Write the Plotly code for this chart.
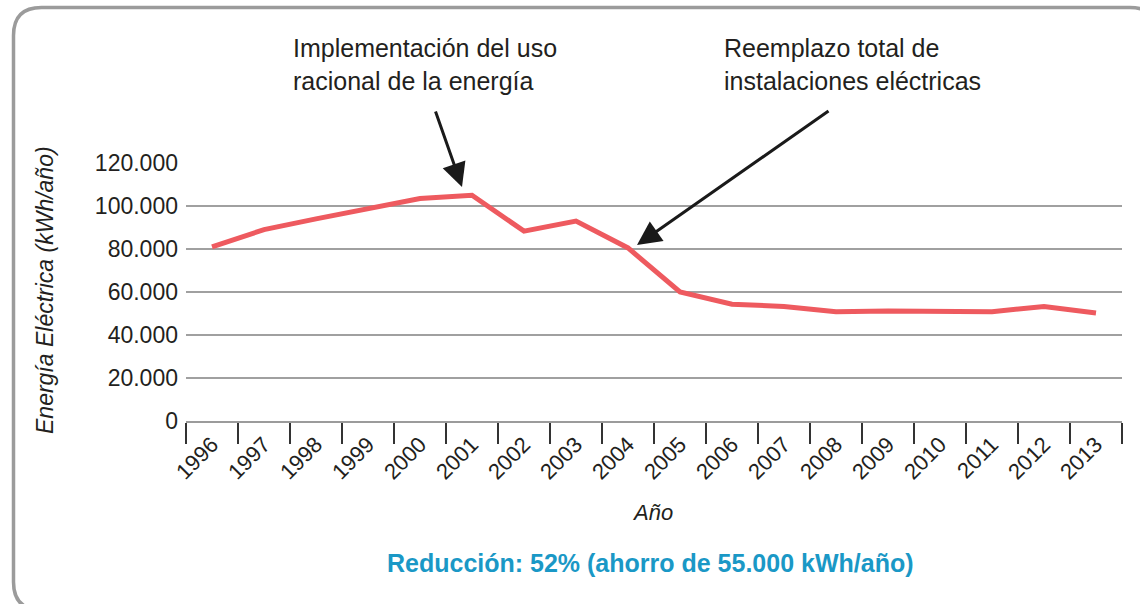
import plotly.graph_objects as go

years = [str(y) for y in range(1996, 2014)]
energia = [81000, 89000, 94000, 98800, 103500, 105000, 88300, 93000, 80500,
           60000, 54300, 53300, 50800, 51200, 50800, 50800, 53300, 50200]
y_ticks = [0, 20000, 40000, 60000, 80000, 100000, 120000]

W, H = 1140, 604
L, R, T, B = 186, 1122, 163, 421  # plot area in pixels


def px(x):
    return (x - L) / (R - L)


def py(y):
    return (B - y) / (B - T)


FONT = "Liberation Sans"
TXT = "#231f20"

fig = go.Figure()
fig.add_trace(go.Scatter(
    x=years, y=energia, mode="lines",
    line=dict(color="#ee5a5f", width=5),
    hoverinfo="skip", showlegend=False))

# rounded border
x0, y0, x1, y1, r = 13.5, 7.5, 1158, 610, 28
path = (f"M {px(x0+r)},{py(y0)} L {px(x1-r)},{py(y0)} "
        f"Q {px(x1)},{py(y0)} {px(x1)},{py(y0+r)} L {px(x1)},{py(y1-r)} "
        f"Q {px(x1)},{py(y1)} {px(x1-r)},{py(y1)} L {px(x0+r)},{py(y1)} "
        f"Q {px(x0)},{py(y1)} {px(x0)},{py(y1-r)} L {px(x0)},{py(y0+r)} "
        f"Q {px(x0)},{py(y0)} {px(x0+r)},{py(y0)} Z")
fig.add_shape(type="path", path=path, xref="paper", yref="paper",
              line=dict(color="#9b9b9b", width=3.5), layer="below")

annotations = [
    dict(text="Implementación del uso<br>racional de la energía", x=px(291), y=py(64),
         xanchor="left", yanchor="middle", align="left", showarrow=False,
         font=dict(size=25, color=TXT)),
    dict(text="Reemplazo total de<br>instalaciones eléctricas", x=px(722), y=py(64),
         xanchor="left", yanchor="middle", align="left", showarrow=False,
         font=dict(size=25, color=TXT)),
    dict(text="Energía Eléctrica (kWh/año)", x=px(45), y=py(290), textangle=-90,
         xanchor="center", yanchor="middle", showarrow=False,
         font=dict(size=23, color=TXT, style="italic")),
    dict(text="Año", x=px(652), y=py(512), xanchor="center", yanchor="middle",
         showarrow=False, font=dict(size=22, color=TXT, style="italic")),
    dict(text="<b>Reducción: 52% (ahorro de 55.000 kWh/año)</b>", x=px(650), y=py(563),
         xanchor="center", yanchor="middle", showarrow=False,
         font=dict(size=25, color="#1a98c6")),
]
for a in annotations:
    a.update(xref="paper", yref="paper")
    fig.add_annotation(**a)

# arrows
for hx, hy, tx, ty in [(462, 187, 435, 110), (637, 245, 830, 110)]:
    fig.add_annotation(x=px(hx), y=py(hy), xref="paper", yref="paper",
                       ax=tx - hx, ay=ty - hy, text="", showarrow=True,
                       arrowhead=2, arrowsize=1.6, arrowwidth=3,
                       arrowcolor="#1a1a1a", standoff=0)

fig.update_layout(
    width=W, height=H,
    margin=dict(l=L, r=W - R, t=T, b=H - B),
    paper_bgcolor="white", plot_bgcolor="white",
    separators=",.",
    font=dict(family=FONT, color=TXT),
    xaxis=dict(type="category", tickson="boundaries", ticks="outside",
               ticklen=21, tickwidth=2, tickcolor="#333333",
               showline=True, linecolor="#9b9b9b", linewidth=2,
               showgrid=False, tickangle=-45, tickfont=dict(size=22, color=TXT),
               range=[-0.5, 17.5], fixedrange=True),
    yaxis=dict(range=[0, 120000], tickvals=y_ticks, tickformat=",d",
               showgrid=True, gridcolor="#a0a0a0", gridwidth=1.5,
               zeroline=False, showline=False, ticks="",
               ticklabelstandoff=7, tickfont=dict(size=23, color=TXT),
               fixedrange=True),
)

fig.write_html("out.html", config={"displayModeBar": False},
               post_script="document.body.style.margin='0';document.body.style.overflow='hidden';")
